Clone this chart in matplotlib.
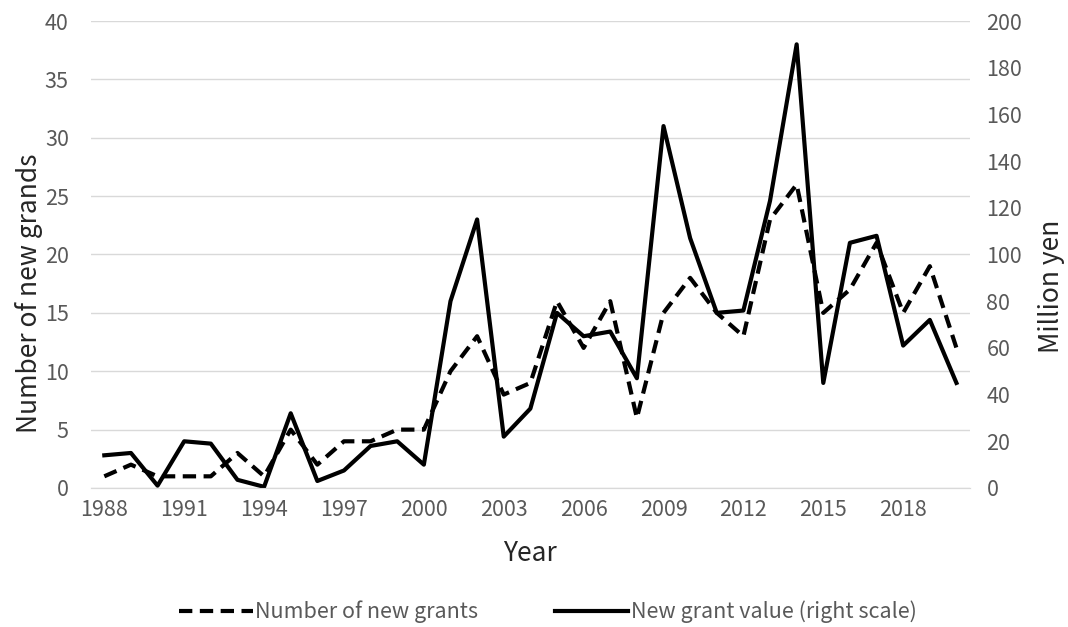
import matplotlib
matplotlib.use("Agg")
import matplotlib.pyplot as plt
from matplotlib.ticker import MultipleLocator

plt.rcParams["font.family"] = ["Noto Sans CJK KR", "DejaVu Sans"]

years = list(range(1988, 2021))
new_grants = [1, 2, 1, 1, 1, 3, 1, 5, 2, 4, 4, 5, 5, 10, 13, 8, 9, 16, 12, 16,
              6, 15, 18, 15, 13, 23, 26, 15, 17, 21, 15, 19, 12]
grant_value = [14, 15, 1, 20, 19, 3.5, 0.5, 32, 3, 7.5, 18, 20, 10, 80, 115, 22,
               34, 75, 65, 67, 47, 155, 107, 75, 76, 123, 190, 45, 105, 108, 61,
               72, 45]
tick_years = list(range(1988, 2021, 3))

TICK_COLOR = "#595959"
TITLE_COLOR = "#262626"
GRID_COLOR = "#d9d9d9"

fig = plt.figure(figsize=(10.68, 6.27), dpi=100)
ax = fig.add_axes([0.0852, 0.2217, 0.8228, 0.7448])
ax2 = ax.twinx()

line_count, = ax.plot(years, new_grants, color="black", linewidth=3,
                      linestyle=(0, (3.2, 1.8)), label="Number of new grants")
line_value, = ax2.plot(years, grant_value, color="black", linewidth=3,
                       label="New grant value (right scale)")

ax.set_xlim(1987.5, 2020.5)
ax.set_ylim(0, 40)
ax2.set_ylim(0, 200)
ax.yaxis.set_major_locator(MultipleLocator(5))
ax2.yaxis.set_major_locator(MultipleLocator(20))
ax.set_xticks(tick_years)

ax.grid(axis="y", color=GRID_COLOR, linewidth=1)
ax.set_axisbelow(True)
for a in (ax, ax2):
    for side in ("top", "left", "right"):
        a.spines[side].set_visible(False)
    a.spines["bottom"].set_color(GRID_COLOR)
    a.tick_params(length=0, labelsize=15.5, labelcolor=TICK_COLOR)
ax.tick_params(axis="x", pad=8)
ax.tick_params(axis="y", pad=16)
ax2.tick_params(axis="y", pad=12)

ax.set_xlabel("Year", fontsize=19, color=TITLE_COLOR)
ax.xaxis.set_label_coords(0.5, -0.112)
ax.set_ylabel("Number of new grands", fontsize=19, color=TITLE_COLOR)
ax.yaxis.set_label_coords(-0.055, 0.418)
ax2.set_ylabel("Million yen", fontsize=19, color=TITLE_COLOR)
ax2.yaxis.set_label_coords(1.078, 0.432)

fig.legend(handles=[line_count, line_value], loc="lower center",
           bbox_to_anchor=(0.513, -0.025), ncol=2, frameon=False, fontsize=15.5,
           handlelength=3.4, handletextpad=0.1, columnspacing=3.6,
           labelcolor=TICK_COLOR)

fig.savefig("out.png", dpi=100)
